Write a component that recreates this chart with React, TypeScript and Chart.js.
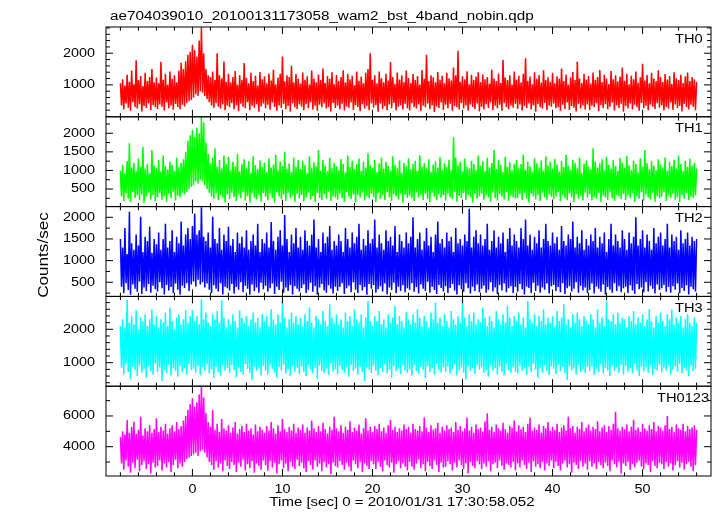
import React, { useEffect, useRef } from "react";
import { Chart, registerables } from "chart.js";
Chart.register(...registerables);

const TITLE = "ae704039010_20100131173058_wam2_bst_4band_nobin.qdp";
const X_LABEL = "Time [sec] 0 = 2010/01/31 17:30:58.052";
const Y_LABEL = "Counts/sec";
const T_START = -8;
const T_STEP = 0.25;
const X_MIN = -9.6;
const X_MAX = 57.6;
const X_TICK_LABELS = [0, 10, 20, 30, 40, 50];
const PANEL_NAMES = ["TH0", "TH1", "TH2", "TH3", "TH0123"];

// upper excursion (HI, at t) and lower excursion (LO, at t + 0.125 s) per 0.25 s, from t = -8 s
const TH0_HI = [
  1050, 1180, 980, 1320, 1100, 1450, 1020, 1780, 1150, 1280, 960, 1380, 1120, 1250, 1500, 1080,
  1230, 1050, 1730, 1160, 1350, 1000, 1420, 1190, 1300, 1080, 1450, 1700, 1500, 1750, 1950, 2050,
  2270, 2100, 1900, 2400, 2820, 2000, 1500, 1300, 1250, 1420, 1150, 2000, 1300, 1200, 1740, 1100,
  1350, 1080, 1250, 1440, 1000, 1300, 1150, 1690, 1220, 1050, 1380, 1120, 1290, 980, 1410, 1180,
  1270, 1050, 1360, 1140, 1480, 1020, 1230, 1350, 1900, 1110, 1300, 1250, 1600, 1080, 1340, 1190,
  1040, 1390, 1160, 1270, 1010, 1450, 1200, 1080, 1330, 1150, 1520, 1060, 1280, 1190, 1400, 1020,
  1310, 1120, 1250, 1460, 1070, 1350, 1180, 1290, 990, 1420, 1130, 1260, 1050, 1380, 1500, 2000,
  1160, 1300, 1050, 1420, 1210, 1080, 1350, 1140, 1720, 1250, 1030, 1390, 1170, 1300, 1090, 1450,
  1220, 1060, 1340, 1150, 1280, 1010, 1470, 1190, 1950, 1120, 1300, 1240, 1080, 1410, 1160, 1290,
  1050, 1380, 1210, 1140, 1550, 1300, 2080, 1100, 1270, 1180, 1430, 1020, 1320, 1150, 1260, 1400,
  1090, 1330, 1180, 1250, 1040, 1480, 1200, 1120, 1360, 1060, 1790, 1230, 1150, 1300, 1010, 1420,
  1170, 1290, 1080, 1350, 1840, 1130, 1260, 1020, 1400, 1190, 1310, 1070, 1460, 1150, 1240, 1100,
  1380, 1050, 1270, 1190, 1520, 1120, 1330, 1010, 1240, 1410, 1150, 1730, 1200, 1060, 1350, 1170,
  1280, 1040, 1390, 1160, 1250, 1470, 1090, 1320, 1200, 1030, 1440, 1180, 1300, 1110, 1260, 1550,
  1130, 1350, 1020, 1290, 1180, 1420, 1070, 1240, 1670, 1140, 1310, 1050, 1380, 1200, 1120, 1460,
  1250, 1090, 1340, 1170, 1280, 1030, 1400, 1210, 1150, 1320, 1060, 1270, 1390, 1120, 1250, 1180,
  1100,
];
const TH0_LO = [
  350, 220, 410, 280, 180, 450, 300, 250, 390, 160, 330, 270, 420, 200, 360, 290,
  240, 380, 310, 190, 440, 260, 350, 210, 400, 300, 230, 370, 320, 420, 480, 520,
  600, 700, 650, 800, 750, 650, 550, 450, 350, 280, 420, 310, 250, 380, 200, 340,
  290, 430, 230, 360, 170, 400, 310, 260, 450, 200, 340, 280, 390, 150, 320, 410,
  260, 370, 210, 440, 300, 180, 350, 270, 400, 230, 330, 160, 420, 290, 240, 380,
  310, 200, 390, 260, 450, 220, 340, 180, 370, 290, 410, 250, 300, 160, 430, 270,
  350, 230, 400, 190, 320, 280, 440, 210, 360, 300, 170, 390, 250, 330, 200, 420,
  280, 360, 150, 410, 240, 330, 200, 380, 270, 430, 190, 310, 360, 220, 400, 260,
  190, 420, 300, 250, 380, 170, 340, 290, 410, 230, 360, 140, 320, 270, 440, 210,
  370, 260, 400, 180, 330, 290, 220, 430, 250, 350, 190, 380, 300, 240, 410, 160,
  310, 220, 390, 270, 440, 200, 340, 260, 370, 180, 420, 300, 230, 350, 280, 400,
  240, 380, 190, 330, 270, 410, 220, 360, 150, 390, 290, 250, 430, 200, 340, 310,
  410, 260, 300, 180, 370, 240, 440, 210, 330, 280, 160, 400, 250, 350, 220, 380,
  200, 340, 290, 420, 170, 360, 260, 390, 230, 310, 440, 190, 350, 270, 400, 150,
  330, 250, 410, 220, 370, 290, 180, 430, 260, 340, 200, 380, 310, 240, 420, 280,
  360, 190, 300, 250, 440, 210, 380, 270, 330, 160, 400, 290, 230, 370, 310, 200,
];
const TH1_HI = [
  1000, 1150, 930, 1250, 1730, 1080, 1200, 990, 1320, 1100, 1640, 1050, 1180, 920, 1550, 1130,
  1060, 1280, 980, 1400, 1120, 1030, 1240, 1150, 990, 1350, 1090, 1200, 1300, 1500, 1800, 1950,
  2090, 1900, 2150, 2000, 2440, 2300, 1750, 1450, 1200, 1350, 1600, 1100, 1280, 1050, 1400, 1170,
  1370, 1020, 1230, 1110, 1450, 980, 1180, 1300, 1060, 1250, 940, 1380, 1140, 1030, 1270, 1100,
  1210, 970, 1330, 1080, 1160, 1420, 1010, 1240, 1120, 1500, 1050, 1190, 960, 1350, 1090, 1280,
  1040, 1260, 1150, 930, 1380, 1070, 1220, 1110, 1550, 1000, 1290, 1130, 980, 1340, 1060, 1200,
  1120, 1010, 1310, 1180, 950, 1400, 1090, 1250, 1040, 1170, 1320, 990, 1230, 1080, 1460, 1140,
  1070, 1280, 960, 1190, 1350, 1050, 1230, 1120, 1000, 1380, 1150, 1060, 1270, 940, 1200, 1110,
  1330, 1040, 1180, 1250, 990, 1410, 1100, 1200, 1060, 1300, 970, 1160, 1240, 1080, 1370, 1020,
  1190, 1090, 1290, 1010, 1900, 1350, 1140, 1230, 980, 1320, 1100, 1050, 1260, 1170, 1020, 1400,
  1130, 1250, 990, 1340, 1080, 1200, 1550, 1040, 1290, 1150, 960, 1360, 1100, 1220, 1010, 1180,
  1280, 1060, 1170, 1430, 1020, 1240, 1110, 970, 1330, 1190, 1080, 1270, 1000, 1380, 1140, 1230,
  1050, 1310, 1160, 980, 1250, 1090, 1420, 1130, 1020, 1290, 1200, 1060, 1350, 940, 1180, 1260,
  1110, 1030, 1600, 1240, 1080, 1190, 1300, 1010, 1370, 1150, 1050, 1280, 1120, 990, 1340, 1210,
  1070, 1390, 1140, 1020, 1260, 1180, 950, 1330, 1100, 1550, 1200, 1040, 1250, 1130, 1010, 1300,
  1160, 1080, 1350, 1000, 1230, 1120, 1290, 1050, 1400, 1170, 990, 1260, 1090, 1320, 1140, 1200,
  1050,
];
const TH1_LO = [
  300, 180, 380, 240, 150, 420, 260, 330, 200, 360, 120, 290, 400, 220, 340, 170,
  270, 390, 210, 310, 160, 370, 250, 430, 190, 320, 280, 400, 350, 420, 500, 560,
  600, 700, 650, 750, 700, 600, 500, 400, 300, 240, 380, 200, 330, 260, 140, 350,
  230, 400, 280, 170, 360, 250, 420, 190, 310, 140, 380, 270, 220, 340, 160, 390,
  290, 200, 370, 250, 130, 410, 300, 230, 350, 180, 400, 260, 320, 150, 380, 240,
  340, 170, 280, 400, 220, 310, 150, 390, 260, 200, 360, 240, 430, 180, 300, 270,
  210, 380, 250, 160, 420, 290, 230, 350, 140, 330, 270, 400, 190, 310, 250, 370,
  280, 150, 390, 240, 330, 200, 410, 270, 180, 360, 300, 220, 380, 130, 340, 260,
  320, 250, 180, 410, 270, 340, 200, 380, 230, 150, 400, 290, 210, 360, 260, 330,
  190, 370, 280, 230, 420, 160, 310, 260, 390, 200, 340, 280, 140, 370, 240, 300,
  380, 210, 330, 270, 160, 400, 250, 190, 360, 290, 220, 410, 170, 320, 280, 240,
  260, 350, 200, 390, 240, 140, 370, 300, 220, 330, 180, 400, 270, 210, 350, 290,
  230, 300, 420, 170, 330, 260, 200, 380, 280, 150, 360, 240, 310, 190, 400, 270,
  350, 190, 280, 240, 390, 160, 320, 270, 210, 410, 250, 180, 340, 300, 230, 370,
  200, 330, 260, 380, 150, 300, 240, 410, 190, 350, 270, 220, 390, 160, 310, 250,
  290, 410, 180, 320, 260, 370, 210, 280, 150, 340, 240, 390, 200, 300, 260, 330,
];
const TH2_HI = [
  1500, 1300, 1750, 1150, 2130, 1400, 1250, 1600, 1350, 2010, 1200, 1550, 1450, 1780, 1180, 1500,
  1380, 1650, 1250, 1500, 1850, 1300, 1450, 1700, 1200, 1550, 1400, 1900, 1350, 1600, 1750, 1500,
  1800, 2090, 1600, 1700, 2230, 1550, 1450, 1650, 1300, 2010, 1500, 1400, 1750, 1250, 1600, 1450,
  1780, 1350, 1500, 1200, 1650, 1400, 1550, 1300, 1700, 1250, 1450, 1600, 1350, 1850, 1200, 1500,
  1400, 1650, 1300, 1890, 1450, 1250, 1550, 1700, 1350, 2050, 1500, 1200, 1600, 1400, 1750, 1300,
  1550, 1250, 1700, 1450, 1350, 1600, 1950, 1300, 1500, 1200, 1650, 1400, 1550, 1800, 1250, 1450,
  1350, 1600, 1450, 1200, 1750, 1500, 1300, 1650, 1400, 1550, 1850, 1250, 1500, 1350, 1700, 1400,
  1500, 1950, 1300, 1600, 1400, 1250, 1700, 1450, 1550, 1350, 1800, 1200, 1600, 1450, 1300, 1650,
  1400, 1550, 2000, 1300, 1500, 1650, 1250, 1450, 1750, 1350, 1550, 1200, 1600, 1900, 1400, 1500,
  1300, 1650, 1450, 1550, 1200, 1750, 1400, 1500, 1350, 1600, 1450, 2200, 1300, 1550, 1700, 1400,
  1600, 1350, 1500, 1850, 1250, 1450, 1700, 1300, 1550, 1400, 1650, 1200, 1500, 1750, 1350, 1600,
  1450, 1300, 1750, 1500, 1950, 1350, 1600, 1250, 1550, 1400, 1700, 1300, 1500, 1850, 1450, 1350,
  1650, 1400, 1550, 1250, 1800, 1450, 1350, 1600, 1500, 1900, 1300, 1550, 1400, 1700, 1250, 1500,
  1350, 1600, 1450, 1750, 1300, 1550, 1400, 1650, 1200, 1500, 1850, 1350, 1600, 1450, 1300, 1700,
  1500, 1250, 1650, 1400, 1550, 2000, 1350, 1500, 1700, 1300, 1600, 1450, 1250, 1750, 1400, 1550,
  1650, 1350, 1500, 1850, 1300, 1600, 1450, 1550, 1250, 1700, 1400, 1500, 1650, 1350, 1550, 1450,
  1500,
];
const TH2_LO = [
  400, 250, 480, 320, 210, 450, 350, 280, 520, 230, 380, 300, 460, 260, 420, 340,
  290, 500, 360, 220, 440, 310, 390, 250, 470, 330, 210, 420, 370, 480, 300, 450,
  520, 400, 560, 450, 500, 380, 470, 330, 250, 430, 350, 290, 480, 220, 400, 360,
  310, 460, 240, 390, 330, 500, 270, 420, 350, 210, 450, 300, 380, 260, 490, 340,
  420, 280, 360, 470, 230, 400, 320, 510, 260, 380, 300, 440, 220, 410, 350, 290,
  370, 450, 250, 330, 490, 280, 410, 220, 380, 460, 310, 260, 430, 350, 240, 400,
  300, 390, 480, 230, 360, 420, 270, 500, 330, 250, 440, 310, 390, 210, 460, 350,
  440, 260, 340, 410, 290, 470, 220, 380, 320, 490, 250, 400, 300, 430, 270, 360,
  330, 480, 280, 390, 240, 450, 350, 300, 510, 260, 400, 320, 230, 440, 370, 290,
  410, 250, 370, 460, 310, 220, 430, 340, 280, 480, 360, 240, 400, 300, 450, 270,
  350, 420, 260, 330, 500, 290, 380, 230, 440, 310, 470, 270, 360, 410, 250, 390,
  280, 460, 340, 220, 400, 370, 250, 490, 300, 420, 260, 380, 330, 470, 240, 410,
  440, 300, 390, 270, 480, 230, 360, 410, 290, 350, 500, 260, 420, 310, 380, 250,
  320, 470, 240, 400, 350, 280, 450, 220, 390, 330, 260, 480, 300, 410, 270, 360,
  400, 250, 430, 310, 230, 460, 340, 380, 270, 500, 290, 420, 350, 240, 450, 320,
  360, 440, 280, 390, 260, 410, 330, 470, 250, 370, 300, 430, 220, 400, 340, 290,
];
const TH3_HI = [
  2100, 2300, 2050, 2875, 2200, 2400, 2150, 2575, 2000, 2350, 2250, 2450, 2100, 2300, 2600, 2150,
  2400, 2050, 2300, 2200, 2500, 2100, 2650, 2250, 2000, 2350, 2450, 2150, 2300, 2580, 2200, 2400,
  2580, 2250, 2400, 2150, 2900, 2300, 2500, 2200, 2100, 2450, 2300, 2550, 2200, 2870, 2350, 2050,
  2300, 2150, 2450, 2250, 2050, 2570, 2350, 2200, 2400, 2100, 2300, 2500, 2200, 2350, 2050, 2450,
  2250, 2400, 2100, 2600, 2300, 2150, 2450, 2200, 2870, 2350, 2050, 2300, 2500, 2200, 2400, 2150,
  2350, 2100, 2450, 2250, 2650, 2200, 2050, 2400, 2300, 2150, 2550, 2250, 2100, 2750, 2350, 2200,
  2450, 2150, 2300, 2050, 2500, 2250, 2400, 2100, 2600, 2300, 2200, 2450, 2050, 2350, 2850, 2250,
  2100, 2400, 2250, 2550, 2150, 2300, 2050, 2450, 2200, 2350, 2700, 2150, 2400, 2250, 2050, 2500,
  2300, 2150, 2450, 2200, 2600, 2350, 2100, 2400, 2250, 2050, 2500, 2300, 2800, 2200, 2350, 2100,
  2450, 2250, 2050, 2550, 2300, 2150, 2400, 2200, 2900, 2350, 2100, 2450, 2250, 2500, 2150, 2300,
  2200, 2650, 2350, 2100, 2400, 2250, 2050, 2550, 2300, 2150, 2450, 2200, 2700, 2350, 2100, 2400,
  2250, 2500, 2150, 2350, 2050, 2850, 2300, 2200, 2450, 2100, 2400, 2250, 2600, 2150, 2350, 2200,
  2400, 2100, 2550, 2250, 2350, 2750, 2150, 2300, 2050, 2450, 2200, 2500, 2300, 2100, 2400, 2250,
  2150, 2450, 2300, 2050, 2600, 2200, 2350, 2100, 2850, 2300, 2250, 2450, 2150, 2500, 2200, 2350,
  2300, 2050, 2400, 2250, 2550, 2150, 2350, 2200, 2450, 2100, 2300, 2600, 2250, 2050, 2400, 2200,
  2500, 2250, 2100, 2450, 2300, 2600, 2150, 2350, 2200, 2400, 2050, 2300, 2450, 2200, 2100, 2350,
  2200,
];
const TH3_LO = [
  850, 650, 950, 720, 500, 880, 780, 600, 920, 700, 820, 550, 900, 760, 640, 980,
  730, 860, 450, 800, 690, 940, 620, 830, 750, 580, 900, 710, 850, 650, 960, 780,
  820, 700, 900, 640, 860, 760, 950, 680, 800, 550, 870, 720, 620, 910, 760, 840,
  690, 930, 780, 560, 850, 720, 640, 960, 810, 700, 480, 880, 750, 830, 620, 900,
  770, 640, 920, 810, 700, 550, 870, 760, 940, 680, 800, 620, 900, 730, 850, 660,
  880, 720, 600, 940, 790, 680, 850, 520, 910, 760, 700, 830, 640, 970, 740, 810,
  650, 900, 780, 700, 860, 580, 930, 750, 820, 640, 880, 720, 450, 850, 790, 690,
  910, 760, 630, 840, 720, 950, 680, 800, 560, 890, 740, 820, 660, 920, 770, 700,
  800, 620, 930, 750, 680, 870, 790, 540, 900, 720, 840, 650, 960, 780, 700, 860,
  730, 880, 680, 810, 950, 620, 770, 860, 700, 500, 900, 750, 830, 660, 920, 790,
  860, 700, 790, 580, 920, 760, 840, 650, 890, 730, 620, 950, 780, 700, 860, 740,
  680, 910, 760, 830, 640, 880, 720, 960, 790, 550, 850, 700, 920, 760, 630, 890,
  820, 660, 940, 750, 870, 700, 480, 900, 780, 840, 650, 930, 720, 800, 690, 870,
  760, 890, 640, 820, 730, 950, 680, 840, 770, 600, 910, 750, 860, 700, 930, 650,
  900, 720, 830, 680, 960, 770, 600, 880, 740, 850, 700, 920, 640, 810, 760, 940,
  710, 850, 760, 920, 650, 800, 890, 730, 960, 680, 840, 770, 600, 900, 750, 820,
];
const TH0123_HI = [
  4650, 5000, 4800, 5740, 4900, 5300, 5630, 4850, 5100, 5950, 4750, 5200, 5000, 5400, 4900, 5150,
  5850, 4950, 5300, 5050, 5500, 4850, 5200, 5400, 5000, 5600, 5150, 5350, 5700, 6000, 6400, 6800,
  7150, 6600, 6900, 7400, 7950, 7200, 6200, 5600, 5300, 6390, 5100, 5500, 4950, 5800, 5200, 5050,
  5400, 4900, 5250, 5600, 4850, 5150, 5350, 4950, 5500, 5050, 5200, 4800, 5450, 5000, 5300, 5100,
  4900, 5350, 5050, 5600, 5200, 4850, 5400, 5000, 5800, 5150, 4950, 5300, 5050, 5500, 4900, 5250,
  5100, 5450, 4900, 5250, 5050, 5700, 5200, 4950, 5350, 5000, 5550, 5150, 4850, 5300, 5100, 5950,
  5200, 5000, 5400, 4900, 5300, 5100, 5650, 4950, 5250, 5050, 5450, 4850, 5200, 5850, 5050, 5300,
  4950, 5350, 5150, 5500, 5000, 5250, 4900, 5400, 5750, 5100, 5300, 4950, 5200, 5050, 5450, 5150,
  5300, 4900, 5500, 5150, 5050, 5350, 5000, 5900, 5250, 4950, 5400, 5100, 5200, 5550, 4900, 5300,
  5050, 5400, 5150, 5250, 4950, 5600, 5100, 5350, 5000, 5200, 5900, 5050, 5300, 4900, 5450, 5150,
  5250, 5000, 5650, 6170, 5100, 5300, 4950, 5450, 5200, 5050, 5550, 5150, 4900, 5350, 5250, 5700,
  5000, 5400, 5150, 5300, 4950, 5500, 5900, 5050, 5250, 5100, 5450, 4900, 5350, 5200, 5600, 5050,
  5300, 5100, 5500, 4950, 5250, 5400, 5050, 5950, 5200, 5350, 4900, 5300, 5150, 5600, 5000, 5250,
  5450, 5050, 5300, 5150, 5650, 5000, 5250, 5400, 4950, 5350, 5100, 5500, 6280, 5200, 5050, 5300,
  5150, 5450, 5000, 5300, 5750, 5100, 5250, 4950, 5500, 5200, 5050, 5400, 5150, 5600, 5000, 5350,
  5250, 5050, 5400, 6000, 5150, 5300, 4950, 5450, 5200, 5100, 5500, 5000, 5350, 5150, 5250, 5400,
  5100,
];
const TH0123_LO = [
  2900, 2500, 3100, 2700, 2300, 2950, 2600, 3150, 2400, 2800, 3050, 2550, 2850, 2250, 2950, 2650,
  2750, 3100, 2450, 2900, 2650, 3000, 2350, 2800, 3150, 2600, 2900, 2700, 3000, 3200, 3300, 3400,
  3500, 3600, 3400, 3700, 3800, 3600, 3300, 3000, 2800, 2500, 3050, 2650, 2900, 2400, 3100, 2750,
  2550, 3000, 2800, 2350, 2950, 2700, 3150, 2450, 2850, 2600, 3050, 2300, 2900, 2750, 2500, 3100,
  2800, 2450, 3050, 2650, 2950, 2250, 2850, 3100, 2600, 2900, 2400, 3000, 2700, 2550, 3150, 2750,
  2950, 2600, 2350, 3050, 2800, 2500, 3100, 2700, 2900, 2400, 3000, 2650, 2850, 2200, 2950, 2750,
  2650, 3050, 2800, 2500, 2950, 2700, 2400, 3100, 2850, 2600, 3000, 2350, 2900, 2750, 2550, 3050,
  2850, 2550, 3000, 2700, 2400, 3100, 2800, 2650, 2950, 2300, 2850, 3050, 2600, 2900, 2700, 2450,
  3000, 2700, 2500, 2900, 3150, 2600, 2850, 2400, 3000, 2750, 2550, 3100, 2800, 2350, 2950, 2650,
  2700, 3050, 2850, 2450, 2950, 2650, 3100, 2800, 2550, 2900, 2250, 3000, 2750, 2600, 3050, 2850,
  2550, 2900, 2700, 3050, 2400, 2850, 2950, 2600, 3100, 2750, 2500, 2900, 2800, 2650, 3000, 2450,
  2900, 2650, 3100, 2800, 2550, 2950, 2350, 3050, 2700, 2850, 2600, 3000, 2450, 2900, 2750, 3100,
  2600, 3000, 2750, 2450, 2900, 3100, 2650, 2850, 2300, 2950, 2800, 2550, 3050, 2700, 2900, 2500,
  3050, 2700, 2900, 2550, 3000, 2800, 2600, 2950, 2750, 2400, 3100, 2850, 2650, 3000, 2250, 2900,
  2750, 3000, 2500, 2850, 2650, 2950, 3100, 2700, 2550, 2900, 2800, 2350, 3050, 2750, 2600, 2950,
  2850, 2550, 3000, 2700, 2900, 2450, 2800, 3050, 2650, 2950, 2500, 2850, 3000, 2700, 2400, 2800,
];

const TH0_TICKS = [1000, 2000];
const TH1_TICKS = [500, 1000, 1500, 2000];
const TH2_TICKS = [500, 1000, 1500, 2000];
const TH3_TICKS = [1000, 2000];
const TH0123_TICKS = [4000, 6000];

const PANELS = [
  { name: PANEL_NAMES[0], hi: TH0_HI, lo: TH0_LO, color: "#ff0000", min: -10, max: 2830, minor: 200, ticks: TH0_TICKS, labelX: 675 },
  { name: PANEL_NAMES[1], hi: TH1_HI, lo: TH1_LO, color: "#00ff00", min: 26, max: 2444, minor: 250, ticks: TH1_TICKS, labelX: 675 },
  { name: PANEL_NAMES[2], hi: TH2_HI, lo: TH2_LO, color: "#0000ff", min: 174, max: 2247, minor: 250, ticks: TH2_TICKS, labelX: 675 },
  { name: PANEL_NAMES[3], hi: TH3_HI, lo: TH3_LO, color: "#00ffff", min: 296, max: 2985, minor: 200, ticks: TH3_TICKS, labelX: 675 },
  { name: PANEL_NAMES[4], hi: TH0123_HI, lo: TH0123_LO, color: "#ff00ff", min: 2090, max: 7940, minor: 1000, ticks: TH0123_TICKS, labelX: 657 },
];

function series(hi: number[], lo: number[]) {
  const pts: { x: number; y: number }[] = [];
  for (let i = 0; i < hi.length; i++) {
    const t = T_START + i * T_STEP;
    pts.push({ x: t, y: hi[i] });
    if (i < lo.length) pts.push({ x: t + T_STEP / 2, y: lo[i] });
  }
  return pts;
}

const FONT = '"Liberation Sans", Arial, Helvetica, sans-serif';

function text(ctx: CanvasRenderingContext2D, s: string, x: number, y: number, size: number, align: CanvasTextAlign, sx: number, rot = 0, baseline: CanvasTextBaseline = "alphabetic") {
  ctx.save();
  ctx.translate(x, y);
  if (rot) ctx.rotate(rot);
  ctx.scale(sx, 1);
  ctx.font = `${size}px ${FONT}`;
  ctx.textAlign = align;
  ctx.textBaseline = baseline;
  ctx.fillStyle = "#000";
  ctx.fillText(s, 0, 0);
  ctx.restore();
}

const framePlugin = {
  id: "qdpFrame",
  afterDraw(chart: any) {
    const ctx: CanvasRenderingContext2D = chart.ctx;
    const area = chart.chartArea;
    const xs = chart.scales.x;
    ctx.save();
    ctx.strokeStyle = "#000";
    ctx.lineWidth = 1;
    PANELS.forEach((p, k) => {
      const ys = chart.scales["y" + k];
      const top = ys.top;
      const bot = ys.bottom;
      ctx.strokeRect(area.left, top, area.right - area.left, bot - top);
      ctx.beginPath();
      for (let v = -8; v <= 56; v += 2) {
        const px = xs.getPixelForValue(v);
        const len = v % 10 === 0 ? 7 : 3.7;
        ctx.moveTo(px, top);
        ctx.lineTo(px, top + len);
        ctx.moveTo(px, bot);
        ctx.lineTo(px, bot - len);
      }
      const start = Math.ceil(p.min / p.minor) * p.minor;
      for (let v = start; v <= p.max; v += p.minor) {
        const py = ys.getPixelForValue(v);
        const len = p.ticks.includes(v) || (p.minor === 1000 && v % 2000 === 0) ? 7 : 4;
        ctx.moveTo(area.left, py);
        ctx.lineTo(area.left + len, py);
        ctx.moveTo(area.right, py);
        ctx.lineTo(area.right - len, py);
      }
      ctx.stroke();
      p.ticks.forEach((v) => {
        text(ctx, String(v), 95, ys.getPixelForValue(v), 12, "right", 1.2, 0, "middle");
      });
      text(ctx, p.name, p.labelX, top + 15.5, 12, "left", 1.22);
    });
    X_TICK_LABELS.forEach((v) => {
      text(ctx, String(v), xs.getPixelForValue(v), 493, 12, "center", 1.2);
    });
    text(ctx, TITLE, 110, 20, 12.5, "left", 1.22);
    text(ctx, X_LABEL, 402, 505.5, 12, "center", 1.25);
    text(ctx, Y_LABEL, 47.5, 255, 14, "center", 1.22, -Math.PI / 2);
    ctx.restore();
  },
};

export default function App() {
  const ref = useRef<HTMLCanvasElement | null>(null);
  useEffect(() => {
    if (!ref.current) return;
    const scales: any = {
      x: {
        type: "linear",
        position: "bottom",
        min: X_MIN,
        max: X_MAX,
        grid: { display: false, drawTicks: false },
        border: { display: false },
        ticks: { display: false },
        afterFit: (s: any) => { s.height = 0; },
      },
    };
    for (let k = PANELS.length - 1; k >= 0; k--) {
      const p = PANELS[k];
      scales["y" + k] = {
        type: "linear",
        position: "left",
        stack: "panels",
        stackWeight: 1,
        min: p.min,
        max: p.max,
        grid: { display: false, drawTicks: false },
        border: { display: false },
        ticks: { display: false },
        afterFit: (s: any) => { s.width = 106; },
      };
    }
    const chart = new Chart(ref.current, {
      type: "line",
      data: {
        datasets: PANELS.map((p, k) => ({
          label: p.name,
          data: series(p.hi, p.lo),
          xAxisID: "x",
          yAxisID: "y" + k,
          borderColor: p.color,
          backgroundColor: p.color,
          borderWidth: 1.5,
          borderJoinStyle: "bevel" as const,
          pointRadius: 0,
          tension: 0,
          fill: false,
        })),
      },
      options: {
        responsive: false,
        animation: false,
        devicePixelRatio: 1,
        layout: { padding: { top: 27, bottom: 40, left: 0, right: 6 } },
        plugins: { legend: { display: false }, tooltip: { enabled: false }, title: { display: false } },
        scales,
      },
      plugins: [framePlugin],
    });
    return () => chart.destroy();
  }, []);
  return (
    <div style={{ position: "absolute", left: 0, top: 0, width: 717, height: 516, background: "#fff" }}>
      <canvas ref={ref} width={717} height={516} style={{ width: 717, height: 516, display: "block" }} />
    </div>
  );
}
